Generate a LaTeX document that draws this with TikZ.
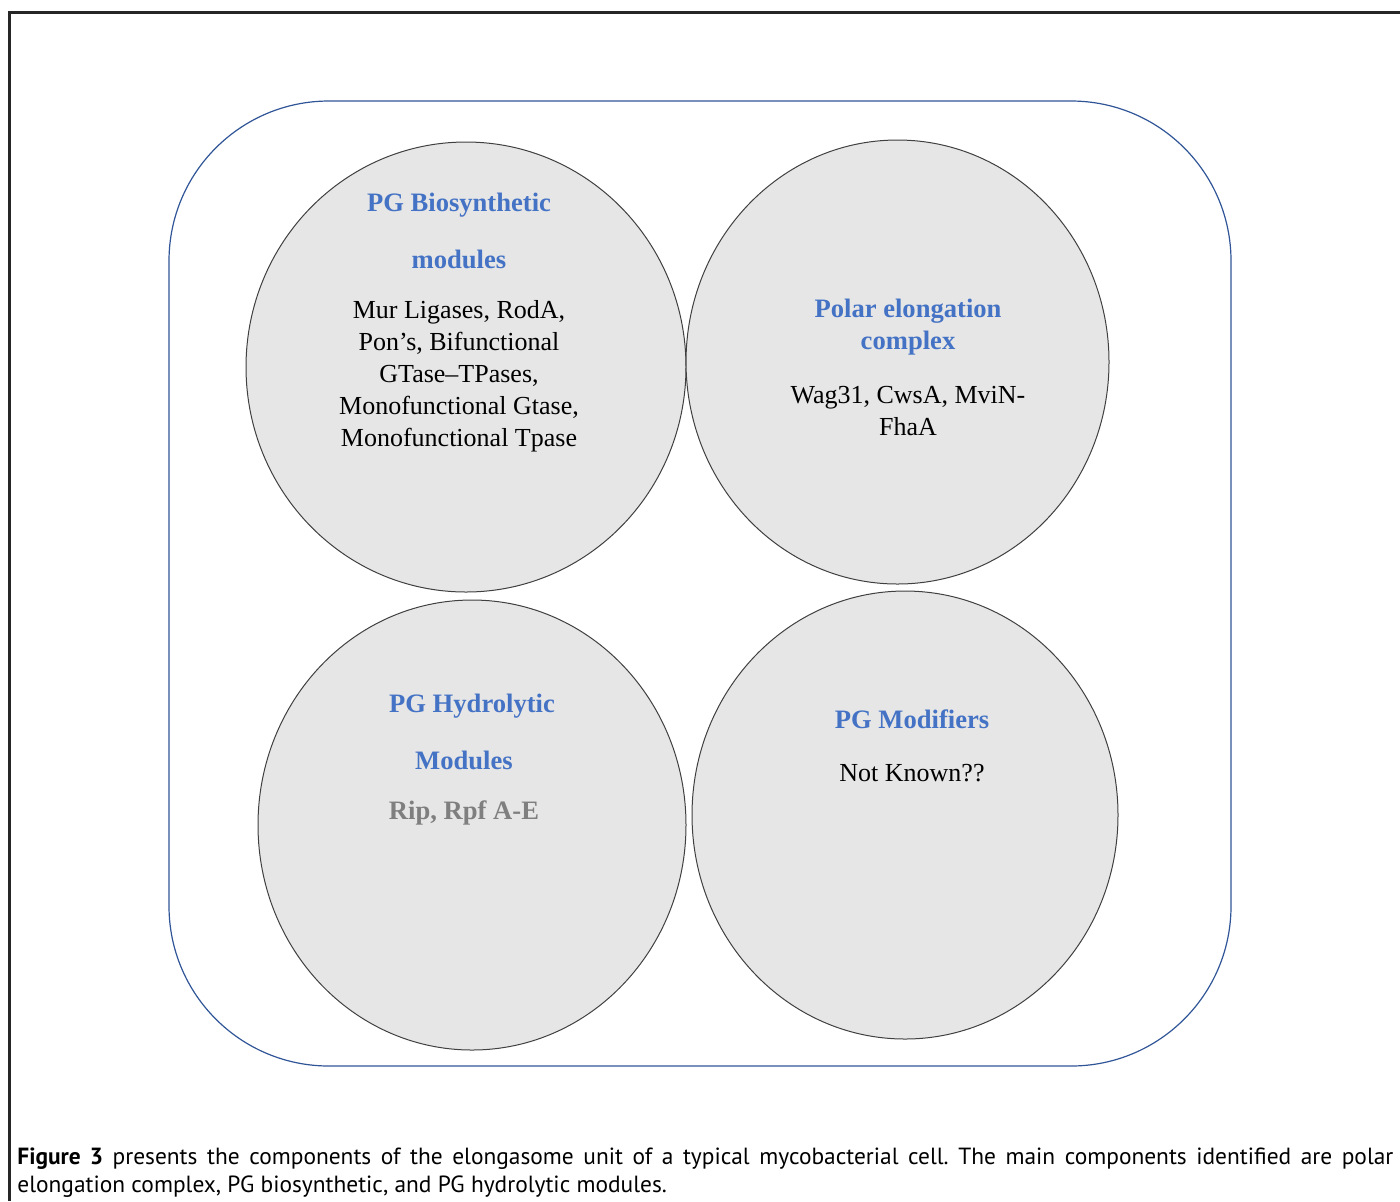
\documentclass[tikz,border=0pt]{standalone}
\usepackage{fontspec}
\setmainfont{Liberation Serif}
\newfontfamily\capfont{PT Sans}
\usetikzlibrary{shapes.geometric}
\definecolor{titleblue}{HTML}{4472C4}
\definecolor{cellblue}{HTML}{2F5597}
\definecolor{discfill}{HTML}{E6E6E6}
\definecolor{discline}{HTML}{404040}
\definecolor{graytext}{HTML}{7F7F7F}
\tikzset{
  disc/.style={ellipse, draw=discline, fill=discfill, line width=0.5pt, inner sep=0pt, outer sep=0pt},
  heading/.style={text=titleblue, font=\fontsize{13.3}{16}\selectfont\bfseries, align=center, inner sep=0pt},
  body/.style={text=black, font=\fontsize{13}{16}\selectfont, align=center, inner sep=0pt},
}
\begin{document}
\begin{tikzpicture}[x=0.5pt,y=-0.5pt]
\useasboundingbox (0,0) rectangle (1400,1201);
% figure frame
\draw[line width=1.5pt, black!85] (1400,12) -- (9,12) -- (9,1201);
% cell
\node[draw=cellblue, line width=0.6pt, rounded corners=80pt, minimum width=531pt, minimum height=482.5pt, inner sep=0pt] (cell) at (700,583.5) {};
% discs
\node[disc, minimum width=220pt, minimum height=225pt] (c1) at (466,367) {};
\node[disc, minimum width=211.5pt, minimum height=222pt] (c2) at (897.5,362) {};
\node[disc, minimum width=214pt, minimum height=225pt] (c3) at (472,825) {};
\node[disc, minimum width=213pt, minimum height=224pt] (c4) at (905,815) {};
% texts disc 1
\node[heading] (t1a) at (459,205) {PG Biosynthetic};
\node[heading] (t1b) at (459,259) {modules};
\node[body] (t1c) at (459,376) {Mur Ligases, RodA,\\Pon’s, Bifunctional\\GTase–TPases,\\Monofunctional Gtase,\\Monofunctional Tpase};
% disc 2
\node[heading] (t2a) at (908,327) {Polar elongation\\complex};
\node[body] (t2b) at (908,411) {Wag31, CwsA, MviN-\\FhaA};
% disc 3
\node[heading] (t3a) at (472,706) {PG Hydrolytic};
\node[heading] (t3b) at (464,760) {Modules};
\node[heading, text=graytext] (t3c) at (464,813) {Rip, Rpf A-E};
% disc 4
\node[heading] (t4a) at (912,719) {PG Modifiers};
\node[body] (t4b) at (912,773) {Not Known??};
% caption
\node[anchor=north west, inner sep=0pt, text width=688pt, align=justify, font=\capfont\fontsize{11.7}{14}\selectfont] (cap) at (17,1147)
{\frenchspacing{\bfseries Figure 3} presents the components of the elongasome unit of a typical mycobacterial cell. The main components identified are polar\linebreak elongation complex, PG biosynthetic, and PG hydrolytic modules.};
\end{tikzpicture}
\end{document}
